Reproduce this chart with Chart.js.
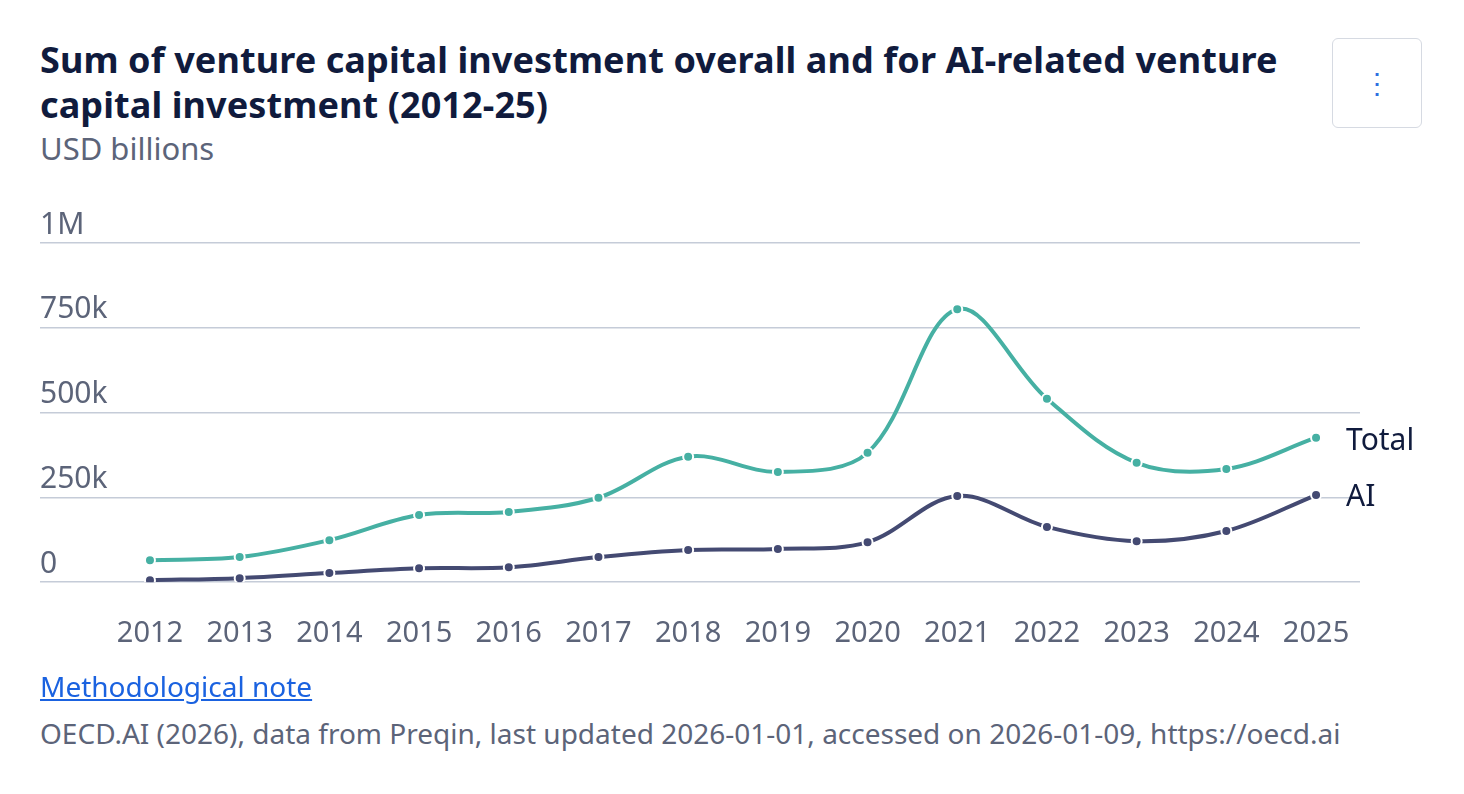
<!DOCTYPE html>
<html>
<head>
<meta charset="utf-8">
<script src="https://cdn.jsdelivr.net/npm/chart.js@4"></script>
<style>
  body { margin: 0; background: #fff; font-family: "Noto Sans", sans-serif; width: 1464px; height: 794px; position: relative; overflow: hidden; }
  h1 { position: absolute; left: 40px; top: 37px; margin: 0; width: 1290px; font-size: 36px; line-height: 45px; font-weight: 700; color: #101b3d; letter-spacing: 0.1px; }
  .sub { position: absolute; left: 40px; top: 127px; font-size: 31px; color: #5c6479; }
  .menu { position: absolute; left: 1332px; top: 38px; width: 90px; height: 90px; border: 1.5px solid #d6dae2; border-radius: 6px; box-sizing: border-box; color: #2f6fe0; font-size: 28px; text-align: center; line-height: 86px; }
  .wrap { position: absolute; left: 0; top: 203px; width: 1464px; height: 474px; }
  .note { position: absolute; left: 40px; top: 667px; font-size: 28px; color: #1a62e0; text-decoration: underline; }
  .src { position: absolute; left: 40px; top: 714px; font-size: 28px; color: #5c6479; }
</style>
</head>
<body>
<h1>Sum of venture capital investment overall and for AI-related venture capital investment (2012-25)</h1>
<div class="sub">USD billions</div>
<div class="menu">&#8942;</div>
<div class="wrap"><canvas id="chart"></canvas></div>
<div class="note">Methodological note</div>
<div class="src">OECD.AI (2026), data from Preqin, last updated 2026-01-01, accessed on 2026-01-09, https://oecd.ai</div>
<script>
// ===============================
// Data
// ===============================
const years = [2012, 2013, 2014, 2015, 2016, 2017, 2018, 2019, 2020, 2021, 2022, 2023, 2024, 2025];
const totalValues = [65000, 74000, 124000, 198000, 207000, 249000, 370000, 325000, 382000, 805000, 541000, 352000, 334000, 426000];
const aiValues = [6000, 12000, 27000, 41000, 44000, 74000, 95000, 98000, 118000, 254000, 163000, 121000, 151000, 257000];
const yTicks = [0, 250000, 500000, 750000, 1000000];
const yTickLabels = ["0", "250k", "500k", "750k", "1M"];

const toPoints = (vals) => vals.map((v, i) => ({ x: years[i], y: v }));

// ===============================
// End labels plugin
// ===============================
const endLabels = {
  id: "endLabels",
  afterDatasetsDraw(chart) {
    const ctx = chart.ctx;
    ctx.save();
    ctx.font = "30px 'Noto Sans'";
    ctx.fillStyle = "#101b3d";
    ctx.textBaseline = "middle";
    chart.data.datasets.forEach((ds, i) => {
      const meta = chart.getDatasetMeta(i);
      const pt = meta.data[meta.data.length - 1];
      ctx.fillText(ds.label, pt.x + 30, pt.y + (i === 0 ? 4 : 2));
    });
    ctx.restore();
  },
};

function dataset(label, vals, color) {
  return {
    label: label,
    data: toPoints(vals),
    borderColor: color,
    backgroundColor: color,
    pointBackgroundColor: color,
    pointBorderColor: "#fff",
    pointBorderWidth: 2,
    pointRadius: 5,
    borderWidth: 4,
    tension: 0.35,
  };
}

new Chart(document.getElementById("chart"), {
  type: "line",
  data: {
    datasets: [
      dataset("Total", totalValues, "#46b0a3"),
      dataset("AI", aiValues, "#444a72"),
    ],
  },
  plugins: [endLabels],
  options: {
    responsive: true,
    maintainAspectRatio: false,
    animation: false,
    layout: { padding: { left: 40, right: 104, top: 40, bottom: 0 } },
    plugins: { legend: { display: false }, tooltip: { enabled: false } },
    scales: {
      x: {
        type: "linear",
        min: 2010.774,
        max: 2025.49,
        grid: { display: false },
        border: { display: false },
        afterBuildTicks: (axis) => { axis.ticks = years.map((y) => ({ value: y })); },
        ticks: {
          callback: (v) => String(v),
          font: { size: 29, family: "Noto Sans" },
          color: "#5c6479",
          padding: 26,
          maxRotation: 0,
          autoSkip: false,
        },
      },
      y: {
        min: 0,
        max: 1000000,
        border: { display: false },
        grid: { color: "#c5ccd8", lineWidth: 1.5, drawTicks: false },
        afterBuildTicks: (axis) => { axis.ticks = yTicks.map((v) => ({ value: v })); },
        ticks: {
          mirror: true,
          padding: 0,
          labelOffset: -18,
          callback: (v) => yTickLabels[yTicks.indexOf(v)],
          font: { size: 30, family: "Noto Sans" },
          color: "#5c6479",
        },
      },
    },
  },
});
</script>
</body>
</html>
